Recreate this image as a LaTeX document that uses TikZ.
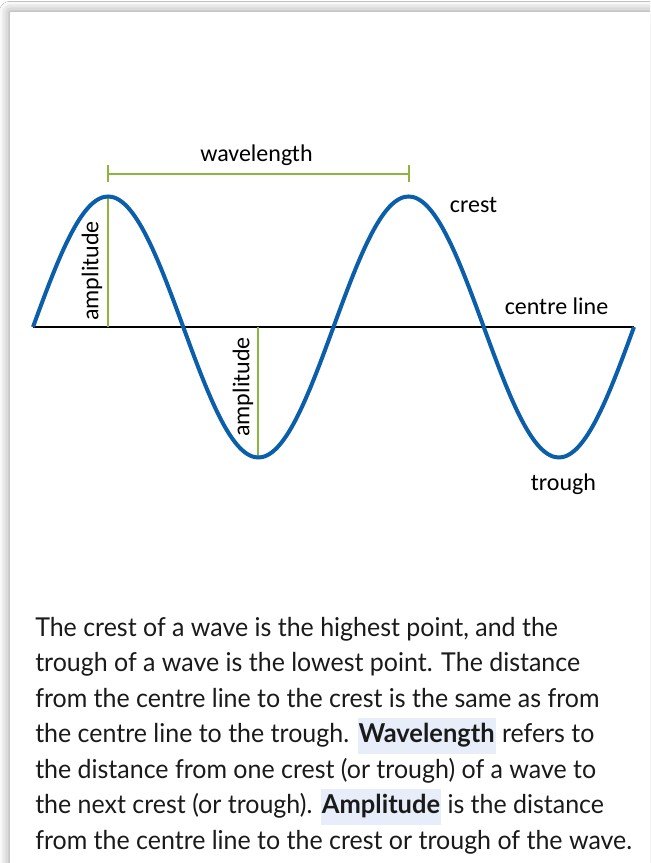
\documentclass[tikz,border=0pt]{standalone}
\usepackage{fontspec}
\setmainfont[FakeStretch=0.96,BoldFeatures={FakeStretch=0.98}]{Lato}
\newfontfamily\labelfont{Carlito}
\usetikzlibrary{shadows.blur}
\definecolor{waveblue}{HTML}{0B5FAA}
\definecolor{barGreen}{HTML}{8BB53F}
\definecolor{hlblue}{HTML}{E8EEF9}
\definecolor{bodytext}{HTML}{1A1A1A}
\newcommand{\keyword}[1]{{\setlength{\fboxsep}{0.75pt}\colorbox{hlblue}{\rule[-7.8pt]{0pt}{25.5pt}\bfseries #1}}}

\begin{document}
\begin{tikzpicture}[x=0.75pt,y=0.75pt,
  wave/.style={waveblue,line width=3pt},
  marker/.style={barGreen,line width=1.6pt},
  lbl/.style={font=\labelfont\fontsize{18}{20}\selectfont,inner sep=0pt}]
\useasboundingbox (0,0) rectangle (650,863);
\fill[white] (0,0) rectangle (650,863);
% card with its shadow
\begin{scope}
\clip (0,0) rectangle (650,863);
\fill[white,blur shadow={shadow xshift=0pt,shadow yshift=0pt,shadow blur radius=8pt,shadow opacity=45}] (10,-30) rectangle (690,851);
\end{scope}

% points on the wave
\coordinate (c0) at (33,536);
\coordinate (c1) at (634,536);
\coordinate (crestA) at (108.1,666.5);
\coordinate (baseA) at (108.1,536);
\coordinate (troughA) at (258.4,405.5);
\coordinate (baseB) at (258.4,536);
\coordinate (wlL) at (108.1,689);
\coordinate (wlR) at (408.6,689);

\draw[line width=2pt] (c0) -- (c1);
\draw[marker] (crestA) -- (baseA);
\draw[marker] (troughA) -- (baseB);
\draw[marker] (wlL) -- (wlR);
\draw[marker] (wlL) ++(0,-8.5) -- ++(0,17);
\draw[marker] (wlR) ++(0,-8.5) -- ++(0,17);
\draw[wave] plot[domain=0:720,samples=145,smooth] ({33+\x*0.83472},{536+130.5*sin(\x)});

\node[lbl,anchor=base] (wavelength) at (256.5,701) {wavelength};
\node[lbl,rotate=90] (ampA) at (92,592) {amplitude};
\node[lbl,rotate=90] (ampB) at (243,476) {amplitude};
\node[lbl,anchor=base] (crest) at (473.5,650) {crest};
\node[lbl,anchor=base] (centre) at (556.5,548) {centre line};
\node[lbl,anchor=base] (trough) at (563.5,372) {trough};

% explanation
\node[anchor=north west,inner sep=0pt,align=left,text=bodytext,
  font=\fontsize{19.5}{26.6}\selectfont] (para) at (35,246) {%
The crest of a wave is the highest point, and the\\
trough of a wave is the lowest point. The distance\\
from the centre line to the crest is the same as from\\
the centre line to the trough. \keyword{Wavelength} refers to\\
the distance from one crest (or trough) of a wave to\\
the next crest (or trough). \keyword{Amplitude} is the distance\\
from the centre line to the crest or trough of the wave.};
\end{tikzpicture}
\end{document}
